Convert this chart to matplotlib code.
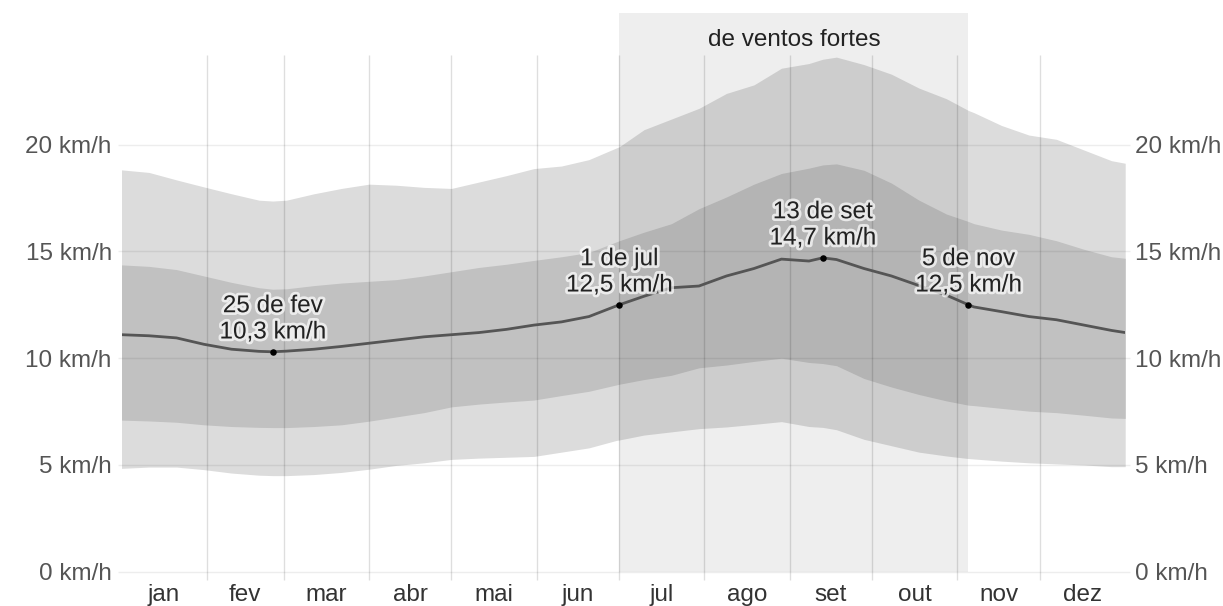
import matplotlib
matplotlib.use("Agg")
import matplotlib.pyplot as plt
import matplotlib.patheffects as pe
from matplotlib.patches import Rectangle

plt.rcParams['font.family'] = ['Liberation Sans', 'DejaVu Sans']

# Day of year (0 = 1 Jan) and wind speed statistics in km/h
days = [0, 10, 20, 30, 40, 50, 55, 60, 70, 80, 90, 100, 110, 120, 130, 140,
        150, 160, 170, 180, 181, 190, 200, 210, 220, 230, 240, 250, 255, 260,
        270, 280, 290, 300, 308, 310, 320, 330, 340, 350, 360, 365]

mean_speed = [11.10, 11.05, 10.95, 10.65, 10.42, 10.32, 10.30, 10.33, 10.42, 10.55,
              10.70, 10.85, 11.00, 11.10, 11.20, 11.35, 11.55, 11.70, 11.95, 12.45,
              12.50, 12.90, 13.30, 13.38, 13.85, 14.20, 14.64, 14.55, 14.70, 14.62,
              14.20, 13.85, 13.40, 12.95, 12.50, 12.40, 12.18, 11.95, 11.80, 11.55,
              11.30, 11.20]

p90 = [18.82, 18.70, 18.35, 18.02, 17.70, 17.40, 17.36, 17.40, 17.70, 17.95,
       18.15, 18.10, 18.00, 17.95, 18.25, 18.55, 18.88, 19.00, 19.30, 19.85,
       19.90, 20.70, 21.20, 21.70, 22.40, 22.80, 23.58, 23.80, 24.00, 24.10,
       23.75, 23.30, 22.65, 22.15, 21.60, 21.50, 20.90, 20.45, 20.25, 19.75,
       19.25, 19.13]

p75 = [14.37, 14.30, 14.15, 13.85, 13.55, 13.30, 13.23, 13.25, 13.40, 13.52,
       13.60, 13.68, 13.85, 14.05, 14.25, 14.40, 14.58, 14.75, 14.95, 15.45,
       15.50, 15.90, 16.30, 17.00, 17.55, 18.15, 18.65, 18.90, 19.05, 19.10,
       18.80, 18.20, 17.40, 16.75, 16.40, 16.30, 16.00, 15.80, 15.50, 15.10,
       14.75, 14.68]

p25 = [7.10, 7.06, 7.00, 6.88, 6.80, 6.76, 6.75, 6.75, 6.80, 6.88,
       7.05, 7.25, 7.45, 7.72, 7.85, 7.95, 8.04, 8.25, 8.45, 8.75,
       8.78, 9.00, 9.20, 9.55, 9.68, 9.85, 10.00, 9.80, 9.75, 9.65,
       9.05, 8.65, 8.30, 8.00, 7.80, 7.78, 7.65, 7.52, 7.45, 7.33,
       7.20, 7.18]

p10 = [4.84, 4.90, 4.90, 4.78, 4.62, 4.52, 4.50, 4.50, 4.55, 4.65,
       4.80, 4.98, 5.10, 5.26, 5.32, 5.36, 5.40, 5.60, 5.80, 6.15,
       6.17, 6.40, 6.55, 6.70, 6.78, 6.90, 7.03, 6.80, 6.76, 6.65,
       6.20, 5.90, 5.60, 5.42, 5.30, 5.28, 5.18, 5.10, 5.05, 5.00,
       4.92, 4.92]

# Highlighted days on the mean line
hl_days = [55, 181, 255, 308]
hl_dates = ["25 de fev", "1 de jul", "13 de set", "5 de nov"]
hl_values = [10.3, 12.5, 14.7, 12.5]

# Windier part of the year
season_start, season_end = 181, 308
season_label = "de ventos fortes"

month_starts = [0, 31, 59, 90, 120, 151, 181, 212, 243, 273, 304, 334, 365]
month_names = ["jan", "fev", "mar", "abr", "mai", "jun",
               "jul", "ago", "set", "out", "nov", "dez"]
y_ticks = [0, 5, 10, 15, 20]

W, H = 1223, 606
FS = 17.5

fig = plt.figure(figsize=(W / 100, H / 100), dpi=100)
ax = fig.add_axes([121.5 / W, 34.3 / H, 1003.7 / W, 516.7 / H])
ax.set_xlim(0, 365)
ax.set_ylim(0, 24.2)
for s in ax.spines.values():
    s.set_visible(False)

# percentile bands
ax.fill_between(days, p10, p90, color='#dcdcdc', lw=0, zorder=1)
ax.fill_between(days, p25, p75, color='#c1c1c1', lw=0, zorder=2)

# windy season overlay
ax.add_patch(Rectangle((season_start, 0), season_end - season_start, 26.17,
                       facecolor='black', alpha=0.065, lw=0,
                       clip_on=False, zorder=3))
ax.text((season_start + season_end) / 2, 24.9, season_label, ha='center',
        va='center', fontsize=FS, color='#222222', zorder=8, clip_on=False)

# grid
ax.vlines(month_starts[1:-1], -0.4, 24.2, color='black', alpha=0.13, lw=1,
          zorder=4, clip_on=False)
ax.hlines(y_ticks, -1.3, 366.9, color='black', alpha=0.07, lw=1,
          zorder=4, clip_on=False)

# mean line and highlighted points
ax.plot(days, mean_speed, color='#555555', lw=2.0, zorder=5,
        solid_joinstyle='round')
ax.scatter(hl_days, hl_values, s=22, color='black', zorder=6, lw=0)

halo = [pe.withStroke(linewidth=4, foreground='white', alpha=0.7)]
for d, lab, v in zip(hl_days, hl_dates, hl_values):
    txt = f"{lab}\n{v:.1f}".replace('.', ',') + " km/h"
    ax.annotate(txt, xy=(d, v), xytext=(0, 6), textcoords='offset points',
                ha='center', va='bottom', fontsize=FS, color='#222222',
                linespacing=1.25, path_effects=halo, zorder=7)

# axes labels
ax.set_yticks(y_ticks, [f"{t} km/h" for t in y_ticks])
ax.tick_params(axis='y', length=0, pad=7, labelleft=True, labelright=True,
               labelsize=FS, labelcolor='#555555')
month_mid = [(a + b) / 2 for a, b in zip(month_starts[:-1], month_starts[1:])]
ax.set_xticks(month_mid, month_names)
ax.tick_params(axis='x', length=0, pad=9, labelsize=FS, labelcolor='#333333')

fig.savefig("out.png", dpi=100)
